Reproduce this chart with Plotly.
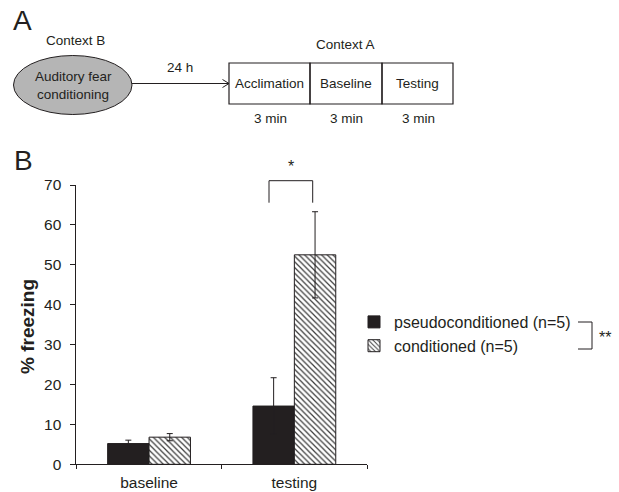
import plotly.graph_objects as go

# Panel B data: % freezing (mean ± SEM)
phases = ["baseline", "testing"]
pseudo_mean = [5.2, 14.6]
pseudo_sem = [0.85, 7.1]
cond_mean = [6.8, 52.5]
cond_sem = [0.9, 10.8]
y_ticks = [0, 10, 20, 30, 40, 50, 60, 70]

# Panel A protocol labels
protocol_steps = ["Acclimation", "Baseline", "Testing"]
step_durations = ["3 min", "3 min", "3 min"]

W, H = 619, 492
FONT = "Liberation Sans, Arial, sans-serif"
INK = "#231f20"


def px(x):
    return x / W


def py(y):
    return 1 - y / H


fig = go.Figure()

fig.add_trace(go.Bar(
    x=phases, y=pseudo_mean, name="pseudoconditioned (n=5)",
    marker=dict(color=INK, line=dict(color=INK, width=1)),
    error_y=dict(type="data", array=pseudo_sem, color=INK, thickness=1, width=3),
))
fig.add_trace(go.Bar(
    x=phases, y=cond_mean, name="conditioned (n=5)",
    marker=dict(color="white", line=dict(color=INK, width=1),
                pattern=dict(shape="\\", fgcolor="#3a3a3a", bgcolor="white",
                             size=4, solidity=0.3)),
    error_y=dict(type="data", array=cond_sem, color=INK, thickness=1, width=3),
))

x0, x1 = 76.4, 367.0
y_top, y_bot = 185.0, 464.3

fig.update_layout(
    template="none",
    width=W, height=H,
    margin=dict(l=0, r=0, t=0, b=0, pad=0, autoexpand=False),
    paper_bgcolor="white", plot_bgcolor="white",
    font=dict(family=FONT, color=INK, size=15.5),
    barmode="group", bargap=0.43, bargroupgap=0,
    xaxis=dict(domain=[px(x0), px(x1)], type="category", range=[-0.5, 1.5],
               automargin=False,
               showline=True, linecolor=INK, linewidth=1,
               ticks="outside", tickson="boundaries", ticklen=4, tickcolor=INK,
               ticklabelstandoff=4,
               tickfont=dict(size=15.5), showgrid=False, fixedrange=True),
    yaxis=dict(domain=[py(y_bot), py(y_top)], range=[0, 70], automargin=False,
               tickvals=y_ticks, showline=True, linecolor=INK, linewidth=1,
               ticks="outside", ticklen=5, tickcolor=INK, ticklabelstandoff=6,
               tickfont=dict(size=15.5), showgrid=False, zeroline=False),
    showlegend=True,
    legend=dict(x=px(354), y=py(305), xanchor="left", yanchor="top",
                font=dict(size=16), bgcolor="rgba(0,0,0,0)", borderwidth=0,
                itemwidth=30, tracegroupgap=0),
)

shapes = []
ann = []


def label(x, y, text, size=13.5, **kw):
    d = dict(x=px(x), y=py(y), xref="paper", yref="paper", text=text,
             showarrow=False, xanchor="center", yanchor="middle",
             font=dict(size=size))
    d.update(kw)
    ann.append(d)


# y-axis title and panel letters
label(27, 327, "<b>% freezing</b>", size=19, textangle=-90)
label(23, 160, "B", size=28)
label(22, 20, "A", size=28)

# significance bracket between groups at testing
shapes.append(dict(type="path", xref="paper", yref="paper",
                   path=f"M {px(269)} {py(202.7)} L {px(269)} {py(180.7)} "
                        f"L {px(312.7)} {py(180.7)} L {px(312.7)} {py(202.7)}",
                   line=dict(color=INK, width=1)))
label(290.5, 167, "*", size=16)

# legend bracket (group effect)
shapes.append(dict(type="path", xref="paper", yref="paper",
                   path=f"M {px(578)} {py(322)} L {px(592)} {py(322)} "
                        f"L {px(592)} {py(349)} L {px(578)} {py(349)}",
                   line=dict(color=INK, width=1)))
label(605, 337, "**", size=16)

# Panel A: protocol schematic
shapes.append(dict(type="circle", xref="paper", yref="paper",
                   x0=px(13.5), x1=px(132), y0=py(114.5), y1=py(55.5),
                   fillcolor="#b5b5b5", line=dict(color=INK, width=1)))
label(73, 76.7, "Auditory fear")
label(73, 94.3, "conditioning")
label(75, 40, "Context B")
label(180, 67, "24 h")
label(345.5, 45, "Context A")

# arrow from conditioning to the test session
shapes.append(dict(type="path", xref="paper", yref="paper",
                   path=f"M {px(132)} {py(83.5)} L {px(229)} {py(83.5)} "
                        f"M {px(222.5)} {py(79.5)} L {px(229)} {py(83.5)} L {px(222.5)} {py(87.5)}",
                   line=dict(color=INK, width=1)))

box_edges = [229, 310, 382, 453]
box_top, box_bot = 63, 104
for i, (step, dur) in enumerate(zip(protocol_steps, step_durations)):
    l, r = box_edges[i], box_edges[i + 1]
    shapes.append(dict(type="rect", xref="paper", yref="paper",
                       x0=px(l), x1=px(r), y0=py(box_bot), y1=py(box_top),
                       line=dict(color=INK, width=1.2), fillcolor="rgba(0,0,0,0)"))
    label((l + r) / 2, 83.5, step)
    label((l + r) / 2 + 1, 118.3, dur)

fig.update_layout(shapes=shapes, annotations=ann)
fig.write_html("out.html")
